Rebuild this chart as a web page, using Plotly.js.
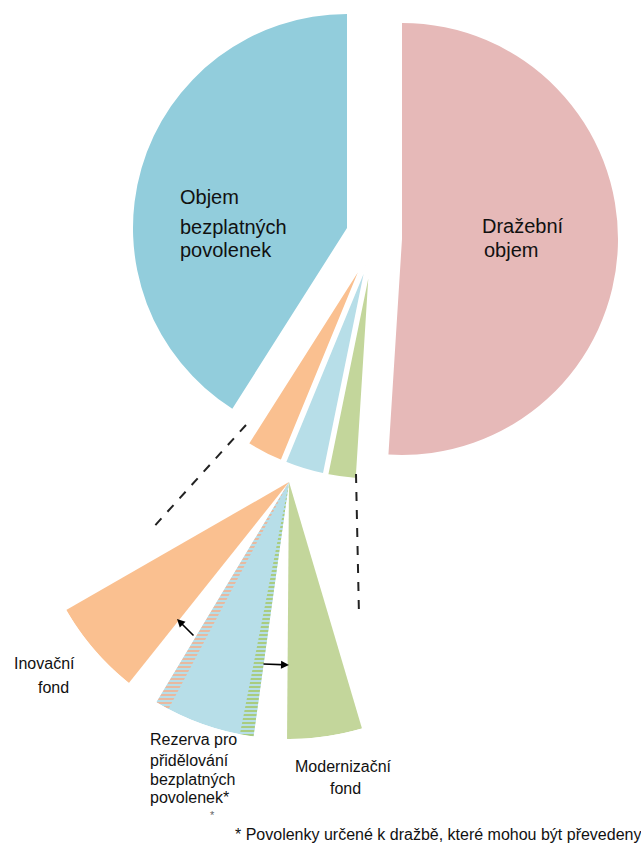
<!DOCTYPE html>
<html>
<head>
<meta charset="utf-8">
<script src="https://cdn.plot.ly/plotly-3.0.1.min.js"></script>
<style>html,body{margin:0;padding:0;background:#fff;}</style>
</head>
<body>
<div id="chart" style="width:641px;height:850px;"></div>
<script>
// ---- data (shares of total, %) ----
const categories = ['Dražební objem', 'Modernizační fond', 'Rezerva pro přidělování bezplatných povolenek', 'Inovační fond', 'Objem bezplatných povolenek'];
const shares = [51, 2.2, 3.0, 2.8, 41];
const colors = ['#E6B9B8', '#C3D69B', '#B7DEE8', '#FAC090', '#92CDDC'];

const detailCategories = ['Modernizační fond', 'Rezerva pro přidělování bezplatných povolenek', 'Inovační fond'];
const detailShares = [2.2, 3.0, 2.8];
const detailColors = ['#C3D69B', '#B7DEE8', '#FAC090'];
// part of the reserve that can be transferred (hatched), % of total
const transferShares = {toModernization: 0.4, toInnovation: 0.4};

// ---- layout helpers ----
const W = 641, H = 850;
function dom(cx, cy, r) {
  return {x: [(cx - r) / W, (cx + r) / W], y: [1 - (cy + r) / H, 1 - (cy - r) / H]};
}
const px = x => x / W, py = y => 1 - y / H;

function pieTrace(visible, cx, cy, r, lineW, pull) {
  pull = pull || 0;
  return {
    type: 'pie', labels: categories, values: shares, sort: false,
    direction: 'clockwise', rotation: 0, textinfo: 'none', hoverinfo: 'skip',
    pull: categories.map((c, i) => visible.includes(i) ? pull : 0),
    marker: {
      colors: colors.map((c, i) => visible.includes(i) ? c : 'rgba(0,0,0,0)'),
      line: {color: colors.map((c, i) => visible.includes(i) && lineW > 0 ? '#ffffff' : 'rgba(0,0,0,0)'), width: lineW}
    },
    domain: dom(cx, cy, r * (1 + pull)), showlegend: false
  };
}

const traces = [
  pieTrace([4], 347, 228, 214, 0, 0),
  pieTrace([0], 402, 239, 216, 0, 0),
  pieTrace([1, 2, 3], 373, 243, 215, 2, 0.1)
];

// ---- magnified fan (barpolar) ----
const fanStart = 163.5, fanScale = 7.7, fanGap = 7.5;
const thetas = [], widths = [];
let a = fanStart;
detailShares.forEach(s => { const w = s * fanScale; thetas.push(a + w / 2); widths.push(w); a += w + fanGap; });

traces.push({
  type: 'barpolar', r: detailShares.map(() => 1), theta: thetas, width: widths,
  marker: {color: detailColors, line: {width: 0}}, hoverinfo: 'skip', showlegend: false
});
const lbStart = thetas[1] - widths[1] / 2, lbEnd = thetas[1] + widths[1] / 2;
const sM = transferShares.toModernization * fanScale, sI = transferShares.toInnovation * fanScale;
traces.push({
  type: 'barpolar', r: [1], theta: [lbStart + sM / 2], width: [sM],
  marker: {color: '#B7DEE8', line: {width: 0}, pattern: {shape: '-', fgcolor: '#A9CC80', bgcolor: '#B7DEE8', size: 4, solidity: 0.5}},
  hoverinfo: 'skip', showlegend: false
});
traces.push({
  type: 'barpolar', r: [1], theta: [lbEnd - sI / 2], width: [sI],
  marker: {color: '#B7DEE8', line: {width: 0}, pattern: {shape: '-', fgcolor: '#E8B9A0', bgcolor: '#B7DEE8', size: 4, solidity: 0.5}},
  hoverinfo: 'skip', showlegend: false
});

const fanDom = dom(289, 482, 257);

const F = 'Liberation Sans, Arial, sans-serif';
function txt(t, x, y, size, anchor, color) {
  return {text: t, x: px(x), y: py(y), xref: 'paper', yref: 'paper', showarrow: false,
    xanchor: anchor || 'left', yanchor: 'middle', font: {family: F, size: size, color: color || '#111'}};
}
function arrow(hx, hy, tx, ty) {
  return {text: '', x: px(hx), y: py(hy), xref: 'paper', yref: 'paper', showarrow: true,
    ax: tx - hx, ay: ty - hy, arrowhead: 2, arrowsize: 1, arrowwidth: 1.6, arrowcolor: '#000'};
}

const annotations = [
  txt('Objem', 178, 197, 20),
  txt('bezplatných', 178, 227, 20),
  txt('povolenek', 178, 250, 20),
  txt('Dražební', 480, 226, 20),
  txt('objem', 482, 250, 20),
  txt('Inovační', 12, 663, 16),
  txt('fond', 36, 687, 16),
  txt('Rezerva pro', 148, 739, 16),
  txt('přidělování', 148, 760, 16),
  txt('bezplatných', 148, 779, 16),
  txt('povolenek*', 148, 797, 16),
  txt('*', 212, 815, 11, 'center', '#666'),
  txt('Modernizační', 293, 766, 16),
  txt('fond', 345, 788, 16, 'center'),
  txt('* Povolenky určené k dražbě, které mohou být převedeny', 233, 834, 16),
  arrow(177, 619, 195, 637),
  arrow(289, 665, 262, 664)
];

const shapes = [
  {type: 'line', xref: 'paper', yref: 'paper', x0: px(246), y0: py(425), x1: px(150), y1: py(531),
   line: {color: '#222', width: 2, dash: 'dash'}},
  {type: 'line', xref: 'paper', yref: 'paper', x0: px(356), y0: py(474), x1: px(359), y1: py(616),
   line: {color: '#222', width: 2, dash: 'dash'}}
];

const layout = {
  width: W, height: H, margin: {l: 0, r: 0, t: 0, b: 0},
  paper_bgcolor: '#fff', plot_bgcolor: '#fff', showlegend: false,
  polar: {
    domain: fanDom, bgcolor: 'rgba(0,0,0,0)', hole: 0,
    angularaxis: {visible: false, rotation: 90, direction: 'clockwise', showgrid: false, showline: false},
    radialaxis: {visible: false, range: [0, 1], showgrid: false, showline: false}
  },
  annotations: annotations, shapes: shapes
};

Plotly.newPlot('chart', traces, layout, {displayModeBar: false, staticPlot: true});
</script>
</body>
</html>
